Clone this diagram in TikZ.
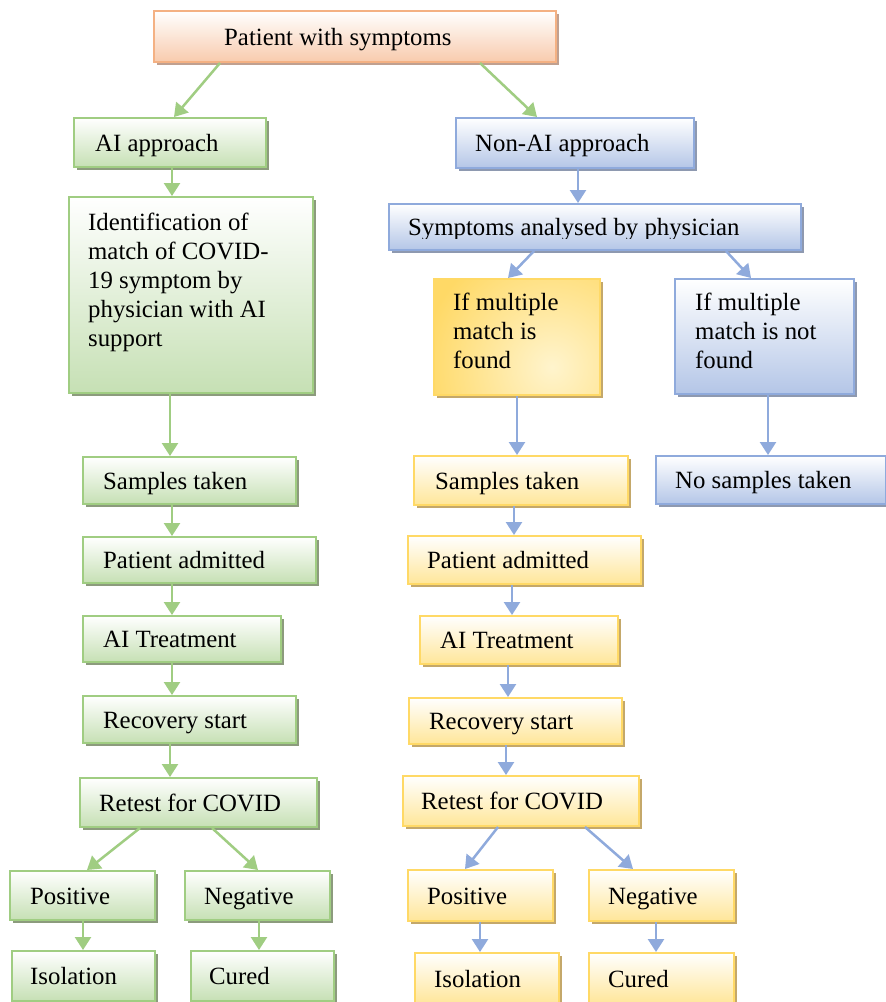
\documentclass[tikz,border=0pt]{standalone}
\usepackage{fontspec}
\setmainfont{Liberation Serif}
\usetikzlibrary{shadows,arrows.meta,calc}
\definecolor{gB}{RGB}{160,205,130}
\definecolor{gF}{RGB}{198,224,180}
\definecolor{gS}{RGB}{140,155,125}
\definecolor{bB}{RGB}{143,170,220}
\definecolor{bF}{RGB}{180,198,231}
\definecolor{bS}{RGB}{142,153,176}
\definecolor{yB}{RGB}{255,217,102}
\definecolor{yF}{RGB}{255,230,153}
\definecolor{yS}{RGB}{196,168,106}
\definecolor{yL}{RGB}{255,244,205}
\definecolor{oB}{RGB}{244,177,131}
\definecolor{oF}{RGB}{248,203,173}
\definecolor{oS}{RGB}{192,160,144}
\tikzset{
  base box/.style={draw, line width=2bp, inner sep=0pt, anchor=north west},
  gbox/.style={base box, draw=gB, top color=white, bottom color=gF,
    drop shadow={shadow xshift=3bp, shadow yshift=-3bp, fill=gS, opacity=1}},
  bbox/.style={base box, draw=bB, top color=white, bottom color=bF,
    drop shadow={shadow xshift=3bp, shadow yshift=-3bp, fill=bS, opacity=1}},
  ybox/.style={base box, draw=yB, top color=white, bottom color=yF,
    drop shadow={shadow xshift=3bp, shadow yshift=-3bp, fill=yS, opacity=1}},
  yrbox/.style={base box, draw=yB,
    path picture={\fill[yB] (path picture bounding box.south west) rectangle (path picture bounding box.north east);
      \shade[inner color=yL, outer color=yB] ($(path picture bounding box.center)+(35bp,-30bp)$) circle (130bp);},
    drop shadow={shadow xshift=3bp, shadow yshift=-3bp, fill=yS, opacity=1}},
  obox/.style={base box, draw=oB, top color=white, bottom color=oF,
    drop shadow={shadow xshift=3bp, shadow yshift=-3bp, fill=oS, opacity=1}},
  txt/.style={inner sep=0pt, font=\fontsize{24.8bp}{29bp}\selectfont, align=left},
  garrow/.style={draw=gB, line width=2.5bp, -{Triangle[width=16bp,length=13bp]}},
  barrow/.style={draw=bB, line width=2.5bp, -{Triangle[width=16bp,length=13bp]}},
}
% name, style, x1, y1, x2, y2, text dx, text
\newcommand\mybox[8]{%
  \node[#2, minimum width={(#5-#3)*1bp}, minimum height={(#6-#4)*1bp}] (#1) at (#3,#4) {};
  \node[txt, anchor=base west] (#1t) at ($(#1.west)+(#7,8.5)$) {#8};
}
% style, A, B, xA, xB
\newcommand\arr[5]{%
  \draw[#1] let \p1=(#2.south), \p2=(#3.north) in (#4 bp,\y1) -- (#5 bp,\y2);
}
\begin{document}
\begin{tikzpicture}[x=1bp,y=-1bp]
\useasboundingbox (0,0) rectangle (886,1002);
\fill[white] (0,0) rectangle (886,1002);

\mybox{top}{obox}{153}{10}{555}{61}{71}{Patient with symptoms}
\mybox{ai}{gbox}{73}{117}{265}{166}{22}{AI approach}
\mybox{nai}{bbox}{455}{117}{693}{167}{20}{Non-AI approach}

\node[gbox, minimum width={244bp}, minimum height={196bp}] (ident) at (68,196) {};
\node[txt, anchor=north west] (identt) at (88,213) {Identification of\\match of COVID-\\19 symptom by\\physician with AI\\support};

\node[bbox, minimum width={412bp}, minimum height={46bp}] (sym) at (388,203) {};
\begin{scope}
\clip (388,203) rectangle (800,238);
\node[txt, anchor=base west] (symt) at (408,235) {Symptoms analysed by physician};
\end{scope}

\node[yrbox, minimum width={166bp}, minimum height={116bp}] (found) at (433,278) {};
\node[txt, anchor=north west] (foundt) at (453,293) {If multiple\\match is\\found};
\node[bbox, minimum width={179bp}, minimum height={115bp}] (nfound) at (674,278) {};
\node[txt, anchor=north west] (nfoundt) at (695,293) {If multiple\\match is not\\found};

\mybox{sL}{gbox}{82}{456}{295}{503}{21}{Samples taken}
\mybox{sR}{ybox}{413}{455}{627}{504}{22}{Samples taken}
\mybox{nos}{bbox}{655}{455}{885}{503}{20}{No samples taken}
\mybox{aL}{gbox}{82}{536}{315}{582}{21}{Patient admitted}
\mybox{aR}{ybox}{407}{535}{640}{583}{20}{Patient admitted}
\mybox{tL}{gbox}{82}{615}{280}{661}{21}{AI Treatment}
\mybox{tR}{ybox}{419}{615}{617}{663}{21}{AI Treatment}
\mybox{rL}{gbox}{82}{695}{295}{742}{21}{Recovery start}
\mybox{rR}{ybox}{408}{697}{621}{743}{21}{Recovery start}
\mybox{reL}{gbox}{79}{777}{316}{826}{20}{Retest for COVID}
\mybox{reR}{ybox}{402}{775}{638}{825}{19}{Retest for COVID}
\mybox{pL}{gbox}{9}{870}{154}{919}{21}{Positive}
\mybox{nL}{gbox}{184}{870}{329}{919}{20}{Negative}
\mybox{iL}{gbox}{11}{950}{154}{1000}{19}{Isolation}
\mybox{cL}{gbox}{190}{950}{333}{1000}{19}{Cured}
\mybox{pR}{ybox}{407}{869}{552}{920}{20}{Positive}
\mybox{nR}{ybox}{588}{869}{733}{920}{20}{Negative}
\mybox{iR}{ybox}{414}{952}{558}{1003}{20}{Isolation}
\mybox{cR}{ybox}{588}{952}{733}{1003}{20}{Cured}

\arr{garrow}{top}{ai}{220}{174}
\arr{garrow}{top}{nai}{480}{537}
\arr{garrow}{ai}{ident}{172}{172}
\arr{barrow}{nai}{sym}{578}{578}
\arr{barrow}{sym}{found}{534}{508}
\arr{barrow}{sym}{nfound}{726}{751}
\arr{garrow}{ident}{sL}{170}{170}
\arr{barrow}{found}{sR}{517}{517}
\arr{barrow}{nfound}{nos}{768}{768}
\arr{garrow}{sL}{aL}{172}{172}
\arr{garrow}{aL}{tL}{172}{172}
\arr{garrow}{tL}{rL}{172}{172}
\arr{garrow}{rL}{reL}{170}{170}
\arr{barrow}{sR}{aR}{514}{514}
\arr{barrow}{aR}{tR}{512}{512}
\arr{barrow}{tR}{rR}{508}{508}
\arr{barrow}{rR}{reR}{506}{506}
\arr{garrow}{reL}{pL}{140}{87}
\arr{garrow}{reL}{nL}{212}{258}
\arr{barrow}{reR}{pR}{498}{465}
\arr{barrow}{reR}{nR}{585}{633}
\arr{garrow}{pL}{iL}{83}{83}
\arr{garrow}{nL}{cL}{259}{259}
\arr{barrow}{pR}{iR}{480}{480}
\arr{barrow}{nR}{cR}{656}{656}
\end{tikzpicture}
\end{document}
